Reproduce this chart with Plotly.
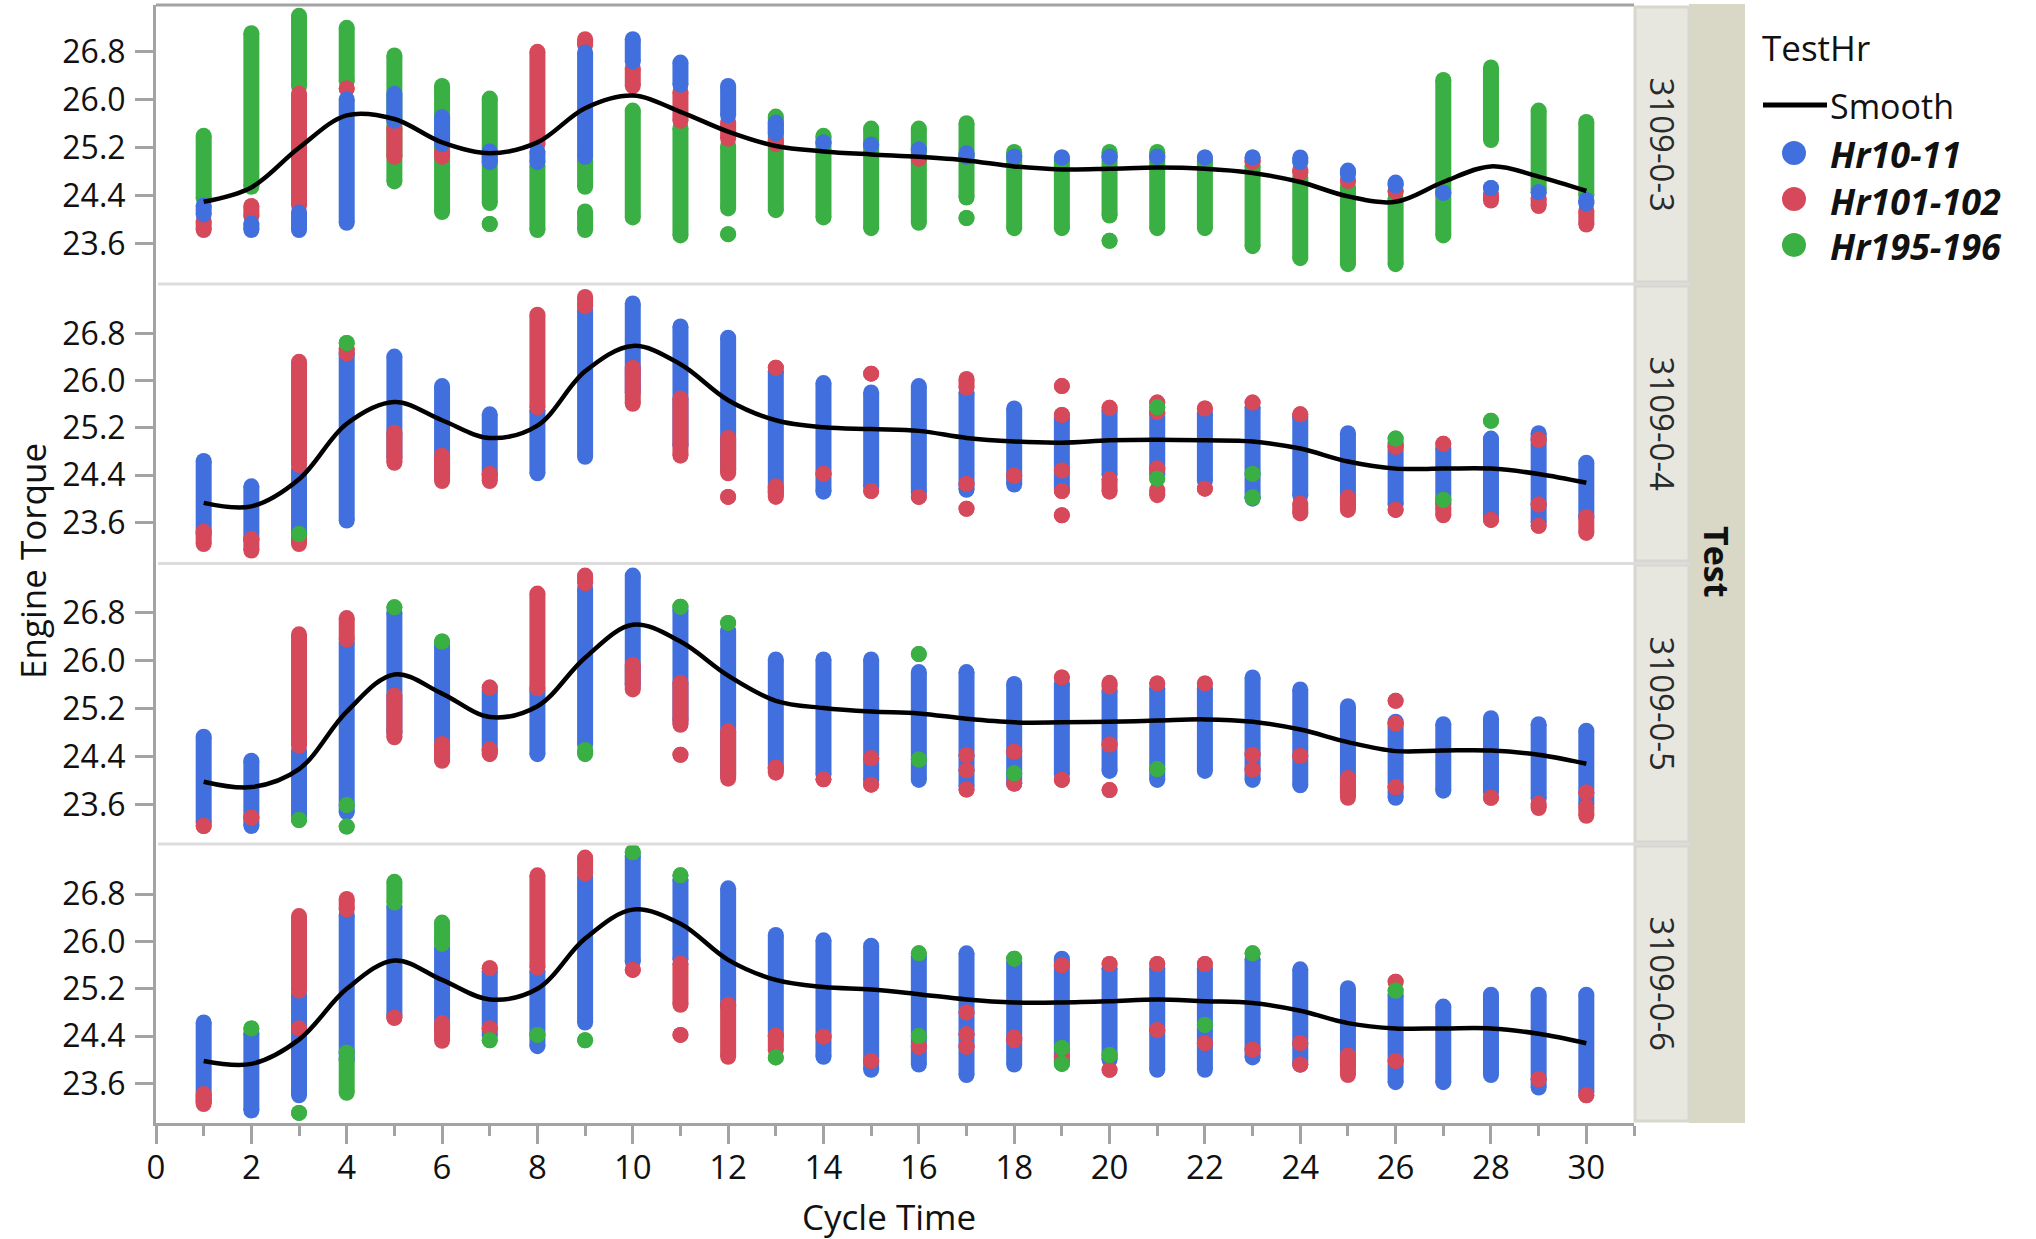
import plotly.graph_objects as go

# ---------------- data ----------------
series_names = ["Hr10-11", "Hr101-102", "Hr195-196"]
panel_names = ["3109-0-3", "3109-0-4", "3109-0-5", "3109-0-6"]
cycle_time = list(range(1, 31))
y_tick_vals = [23.6, 24.4, 25.2, 26.0, 26.8]

# each entry: (cycle time, lowest torque, highest torque) of a visible run of points
p1_blue = [(1, 24.09, 24.24), (2, 23.83, 23.94), (3, 23.83, 24.12), (4, 23.95, 26.01), (5, 25.65, 26.10),
           (6, 25.26, 25.71), (7, 24.96, 25.14), (8, 24.96, 25.14), (9, 25.05, 26.79), (10, 26.64, 27.01),
           (11, 26.25, 26.62), (12, 25.74, 26.23), (13, 25.44, 25.62), (14, 25.29, 25.29), (15, 25.25, 25.25),
           (16, 25.17, 25.17), (17, 25.05, 25.11), (18, 25.05, 25.05), (19, 25.04, 25.04), (20, 25.05, 25.05),
           (21, 25.05, 25.05), (22, 25.04, 25.04), (23, 25.04, 25.04), (24, 24.96, 25.04), (25, 24.75, 24.82),
           (26, 24.57, 24.62), (27, 24.45, 24.45), (28, 24.53, 24.53), (29, 24.46, 24.46), (30, 24.27, 24.33)]
p1_red = [(1, 23.83, 23.97), (2, 24.06, 24.23), (3, 24.24, 26.10), (4, 26.19, 26.19), (5, 25.05, 25.53),
          (6, 25.05, 25.14), (8, 25.26, 26.80), (9, 26.91, 27.01), (10, 26.23, 26.52), (11, 25.65, 26.13),
          (12, 25.35, 25.62), (13, 25.26, 25.32), (16, 25.02, 25.02), (23, 24.96, 25.00), (24, 24.78, 24.84),
          (25, 24.65, 24.65), (26, 24.47, 24.47), (28, 24.32, 24.42), (29, 24.23, 24.36), (30, 23.92, 24.15)]
p1_green = [(1, 24.36, 25.40), (2, 24.55, 27.11), (3, 26.22, 27.40), (4, 26.31, 27.20), (5, 24.64, 26.74),
            (6, 24.13, 26.23), (7, 24.28, 26.02), (7, 23.93, 23.93), (8, 23.83, 24.90), (9, 24.55, 25.00),
            (9, 23.83, 24.14), (10, 24.04, 25.82), (11, 23.74, 25.53), (12, 24.19, 25.23), (12, 23.76, 23.76),
            (13, 24.16, 25.72), (14, 24.04, 25.40), (15, 23.86, 25.52), (16, 23.95, 25.52), (17, 24.37, 25.61),
            (17, 24.03, 24.03), (18, 23.86, 25.13), (19, 23.86, 25.00), (20, 24.07, 25.13), (20, 23.65, 23.65),
            (21, 23.86, 25.13), (22, 23.86, 24.98), (23, 23.56, 24.90), (24, 23.36, 24.70), (25, 23.26, 24.55),
            (26, 23.26, 24.36), (27, 23.74, 26.33), (28, 25.33, 26.54), (29, 24.50, 25.82), (30, 24.40, 25.63)]

p2_blue = [(1, 23.40, 24.64), (2, 23.30, 24.21), (3, 23.30, 24.50), (4, 23.63, 26.45), (5, 24.70, 26.41),
           (6, 24.40, 25.91), (7, 24.40, 25.43), (8, 24.43, 25.50), (9, 24.71, 27.20), (10, 25.80, 27.31),
           (11, 24.90, 26.92), (12, 24.50, 26.73), (13, 24.10, 26.16), (14, 24.12, 25.96), (15, 24.20, 25.80),
           (16, 24.10, 25.91), (17, 24.15, 25.80), (18, 24.24, 25.53), (19, 24.15, 25.37), (20, 24.40, 25.50),
           (21, 24.40, 25.45), (22, 24.30, 25.45), (23, 24.00, 25.55), (24, 24.05, 25.40), (25, 23.90, 25.11),
           (26, 23.90, 24.95), (27, 23.90, 24.85), (28, 23.70, 25.02), (29, 23.60, 25.11), (30, 23.70, 24.61)]
p2_red = [(1, 23.23, 23.44), (2, 23.12, 23.32), (3, 24.57, 26.32), (3, 23.23, 23.33), (4, 26.46, 26.55),
          (5, 24.61, 25.12), (6, 24.30, 24.73), (7, 24.30, 24.42), (8, 25.55, 27.12), (9, 27.26, 27.42),
          (10, 25.61, 26.22), (11, 24.73, 25.70), (12, 24.43, 25.03), (12, 24.03, 24.03), (13, 26.22, 26.22),
          (13, 24.03, 24.21), (14, 24.42, 24.42), (15, 26.12, 26.12), (15, 24.13, 24.13), (16, 24.03, 24.03),
          (17, 25.88, 26.03), (17, 24.25, 24.25), (17, 23.83, 23.83), (18, 24.39, 24.39), (19, 25.91, 25.91),
          (19, 25.42, 25.42), (19, 24.48, 24.48), (19, 24.13, 24.13), (19, 23.72, 23.72), (20, 25.54, 25.54),
          (20, 24.12, 24.33), (21, 25.63, 25.63), (21, 25.47, 25.47), (21, 24.51, 24.51), (21, 24.06, 24.15),
          (22, 25.53, 25.53), (22, 24.17, 24.17), (23, 25.63, 25.63), (24, 25.43, 25.43), (24, 23.75, 23.92),
          (25, 23.81, 24.02), (26, 24.88, 24.88), (26, 23.81, 23.81), (27, 24.93, 24.93), (27, 23.72, 23.85),
          (28, 23.64, 23.64), (29, 25.00, 25.00), (29, 23.90, 23.90), (29, 23.54, 23.54), (30, 23.42, 23.69)]
p2_green = [(3, 23.40, 23.40), (4, 26.64, 26.64), (21, 25.55, 25.55), (21, 24.34, 24.34), (23, 24.42, 24.42),
            (23, 24.02, 24.02), (26, 25.02, 25.02), (27, 23.98, 23.98), (28, 25.32, 25.32)]

p3_blue = [(1, 23.30, 24.73), (2, 23.24, 24.33), (3, 23.40, 24.50), (4, 23.47, 26.30), (5, 24.80, 26.80),
           (6, 24.40, 26.25), (7, 24.50, 25.50), (8, 24.44, 25.50), (9, 24.60, 27.20), (10, 25.60, 27.42),
           (11, 25.00, 26.85), (12, 24.10, 26.50), (13, 24.20, 26.02), (14, 24.10, 26.02), (15, 24.00, 26.02),
           (16, 24.01, 25.81), (17, 23.90, 25.81), (18, 23.95, 25.61), (19, 24.10, 25.62), (20, 24.16, 25.50),
           (21, 24.01, 25.54), (22, 24.16, 25.54), (23, 24.01, 25.72), (24, 23.92, 25.52), (25, 23.80, 25.24),
           (26, 23.71, 24.98), (27, 23.83, 24.94), (28, 23.80, 25.04), (29, 23.70, 24.94), (30, 23.60, 24.83)]
p3_red = [(1, 23.24, 23.24), (2, 23.38, 23.38), (3, 24.58, 26.44), (4, 26.35, 26.71), (5, 24.72, 25.42),
          (6, 24.33, 24.61), (7, 25.55, 25.55), (7, 24.44, 24.52), (8, 25.54, 27.12), (9, 27.29, 27.42),
          (10, 25.52, 25.93), (11, 24.93, 25.63), (11, 24.43, 24.43), (12, 24.03, 24.82), (13, 24.13, 24.22),
          (14, 24.02, 24.02), (15, 24.37, 24.37), (15, 23.93, 23.93), (17, 24.42, 24.42), (17, 24.17, 24.17),
          (17, 23.85, 23.85), (18, 24.48, 24.48), (18, 23.95, 23.95), (19, 25.72, 25.72), (19, 24.01, 24.01),
          (20, 25.57, 25.63), (20, 24.60, 24.60), (20, 23.84, 23.84), (21, 25.62, 25.62), (22, 25.62, 25.62),
          (23, 24.43, 24.43), (23, 24.18, 24.18), (24, 24.41, 24.41), (25, 23.71, 24.04), (26, 25.33, 25.33),
          (26, 24.95, 24.95), (26, 23.89, 23.89), (28, 23.71, 23.71), (29, 23.54, 23.61), (30, 23.80, 23.80),
          (30, 23.41, 23.56)]
p3_green = [(3, 23.34, 23.34), (4, 23.59, 23.59), (4, 23.23, 23.23), (5, 26.89, 26.89), (6, 26.32, 26.32),
            (9, 24.44, 24.51), (11, 26.90, 26.90), (12, 26.63, 26.63), (16, 26.11, 26.11), (16, 24.35, 24.35),
            (18, 24.12, 24.12), (21, 24.19, 24.19)]

p4_blue = [(1, 23.30, 24.63), (2, 23.14, 24.45), (3, 23.40, 25.10), (4, 24.00, 26.45), (5, 24.75, 26.60),
           (6, 24.50, 25.90), (7, 24.40, 25.50), (8, 24.23, 25.50), (9, 24.63, 27.10), (10, 25.66, 27.45),
           (11, 25.70, 27.05), (12, 24.90, 26.90), (13, 24.40, 26.11), (14, 24.05, 26.02), (15, 23.83, 25.93),
           (16, 23.92, 25.75), (17, 23.74, 25.80), (18, 23.92, 25.65), (19, 23.95, 25.71), (20, 24.00, 25.55),
           (21, 23.83, 25.55), (22, 23.83, 25.55), (23, 24.04, 25.70), (24, 23.92, 25.53), (25, 23.90, 25.21),
           (26, 23.62, 25.10), (27, 23.62, 24.90), (28, 23.74, 25.10), (29, 23.53, 25.10), (30, 23.45, 25.10)]
p4_red = [(1, 23.25, 23.42), (3, 25.17, 26.43), (3, 24.53, 24.53), (4, 26.54, 26.72), (5, 24.71, 24.71),
          (6, 24.32, 24.62), (7, 25.55, 25.55), (7, 24.53, 24.53), (8, 25.56, 27.12), (9, 27.15, 27.42),
          (10, 25.52, 25.52), (11, 24.93, 25.63), (11, 24.42, 24.42), (12, 24.05, 24.93), (13, 24.16, 24.41),
          (14, 24.39, 24.39), (15, 23.98, 23.98), (16, 24.22, 24.22), (17, 24.80, 24.80), (17, 24.43, 24.43),
          (17, 24.22, 24.22), (18, 24.33, 24.38), (19, 25.60, 25.60), (19, 24.05, 24.05), (20, 25.62, 25.62),
          (20, 23.83, 23.83), (21, 25.62, 25.62), (21, 24.50, 24.50), (22, 25.62, 25.62), (22, 24.28, 24.28),
          (23, 24.17, 24.17), (24, 24.28, 24.28), (24, 23.92, 23.92), (25, 23.74, 24.07), (26, 25.32, 25.32),
          (26, 23.98, 23.98), (29, 23.67, 23.67), (30, 23.40, 23.40)]
p4_green = [(2, 24.53, 24.53), (3, 23.10, 23.10), (4, 24.12, 24.12), (4, 23.44, 24.01), (5, 26.66, 27.01),
            (6, 25.96, 26.32), (7, 24.33, 24.33), (8, 24.42, 24.42), (9, 24.33, 24.33), (10, 27.51, 27.51),
            (11, 27.12, 27.12), (13, 24.04, 24.04), (16, 25.80, 25.80), (16, 24.40, 24.40), (18, 25.71, 25.71),
            (19, 24.20, 24.20), (19, 23.93, 23.93), (20, 24.08, 24.08), (22, 24.59, 24.59), (23, 25.80, 25.80),
            (26, 25.17, 25.17)]

p1_smooth = [24.30, 24.54, 25.20, 25.74, 25.68, 25.29, 25.11, 25.29, 25.86, 26.07, 25.80, 25.47, 25.23, 25.14, 25.09,
             25.05, 24.99, 24.89, 24.84, 24.85, 24.87, 24.85, 24.78, 24.63, 24.39, 24.30, 24.63, 24.89, 24.72, 24.48]
p2_smooth = [23.93, 23.87, 24.33, 25.27, 25.64, 25.33, 25.03, 25.24, 26.16, 26.59, 26.28, 25.67, 25.33, 25.21, 25.18,
             25.15, 25.03, 24.97, 24.95, 24.99, 25.00, 24.99, 24.97, 24.85, 24.63, 24.51, 24.51, 24.51, 24.42, 24.27]
p3_smooth = [23.98, 23.89, 24.19, 25.15, 25.77, 25.45, 25.06, 25.24, 26.05, 26.60, 26.32, 25.75, 25.33, 25.21, 25.15,
             25.12, 25.03, 24.97, 24.97, 24.98, 25.00, 25.02, 24.98, 24.85, 24.64, 24.49, 24.50, 24.50, 24.43, 24.28]
p4_smooth = [23.98, 23.93, 24.34, 25.20, 25.68, 25.35, 25.02, 25.20, 26.05, 26.54, 26.30, 25.69, 25.35, 25.23, 25.19,
             25.11, 25.02, 24.97, 24.97, 24.99, 25.02, 24.99, 24.96, 24.83, 24.62, 24.53, 24.53, 24.53, 24.44, 24.28]

# ---------------- styling ----------------
W, H = 2036, 1239
FONT = "Open Sans"
COLORS = {"Hr10-11": "#4170de", "Hr101-102": "#d6495a", "Hr195-196": "#3aaf43"}
AXIS_GRAY = "#a3a3a3"
SEP_GRAY = "#dcdcdc"
DOT = 16


def pxx(x):
    return x / W


def pxy(y):
    return 1 - y / H


panel_px = [(5, 284), (284, 563), (563, 844), (844, 1123)]
panel_ranges = [(22.93, 27.58), (22.91, 27.64), (22.94, 27.63), (22.93, 27.65)]
plot_left, plot_right = 156, 1634

panels = [
    {"Hr10-11": p1_blue, "Hr101-102": p1_red, "Hr195-196": p1_green, "smooth": p1_smooth,
     "order": ["Hr195-196", "Hr101-102", "Hr10-11"]},
    {"Hr10-11": p2_blue, "Hr101-102": p2_red, "Hr195-196": p2_green, "smooth": p2_smooth,
     "order": ["Hr10-11", "Hr101-102", "Hr195-196"]},
    {"Hr10-11": p3_blue, "Hr101-102": p3_red, "Hr195-196": p3_green, "smooth": p3_smooth,
     "order": ["Hr10-11", "Hr101-102", "Hr195-196"]},
    {"Hr10-11": p4_blue, "Hr101-102": p4_red, "Hr195-196": p4_green, "smooth": p4_smooth,
     "order": ["Hr10-11", "Hr101-102", "Hr195-196"]},
]

fig = go.Figure()
for i, p in enumerate(panels):
    yref = "y" if i == 0 else f"y{i + 1}"
    for name in p["order"]:
        xs, ys = [], []
        for (ct, lo, hi) in p[name]:
            xs += [ct, ct, None]
            ys += [lo, hi, None]
        fig.add_trace(go.Scatter(
            x=xs, y=ys, yaxis=yref, xaxis="x", mode="lines+markers", name=name,
            legendgroup=name, showlegend=False,
            line=dict(color=COLORS[name], width=DOT),
            marker=dict(color=COLORS[name], size=DOT, line=dict(width=0)),
            hoverinfo="skip"))
    fig.add_trace(go.Scatter(
        x=cycle_time, y=p["smooth"], yaxis=yref, xaxis="x", mode="lines", name="Smooth",
        showlegend=False, line=dict(color="black", width=4.5, shape="spline")))

layout = dict(
    template="none",
    width=W, height=H, margin=dict(l=0, r=0, t=0, b=0, pad=0, autoexpand=False),
    paper_bgcolor="white", plot_bgcolor="white", showlegend=False,
    font=dict(family=FONT, color="#111111", size=32),
    xaxis=dict(domain=[pxx(plot_left), pxx(plot_right)], range=[0, 31], anchor="y4", automargin=False,
               tick0=0, dtick=2, ticks="outside", ticklen=18, tickwidth=2.5, tickcolor=AXIS_GRAY,
               showline=True, linecolor=AXIS_GRAY, linewidth=3, showgrid=False, zeroline=False,
               ticklabelstandoff=-5,
               tickfont=dict(size=33, family=FONT, color="#111111"),
               minor=dict(dtick=1, ticks="outside", ticklen=10, tickwidth=2.5, tickcolor=AXIS_GRAY,
                          showgrid=False)),
)
for i in range(4):
    key = "yaxis" if i == 0 else f"yaxis{i + 1}"
    top, bot = panel_px[i]
    layout[key] = dict(domain=[pxy(bot), pxy(top)], range=list(panel_ranges[i]), anchor="x", automargin=False,
                       tickvals=y_tick_vals, ticktext=[f"{v:.1f}" for v in y_tick_vals],
                       ticks="outside", ticklen=18, tickwidth=2.5, tickcolor=AXIS_GRAY,
                       showline=True, linecolor=AXIS_GRAY, linewidth=3, showgrid=False, zeroline=False,
                       ticklabelstandoff=3,
                       tickfont=dict(size=32, family=FONT, color="#111111"))
fig.update_layout(**layout)

shapes = []
# top border & panel separators
shapes.append(dict(type="line", xref="paper", yref="paper", x0=pxx(plot_left), x1=pxx(plot_right),
                   y0=pxy(5), y1=pxy(5), line=dict(color=AXIS_GRAY, width=3), layer="above"))
for yy in (284, 563.5, 844):
    shapes.append(dict(type="line", xref="paper", yref="paper", x0=pxx(plot_left + 2), x1=pxx(1690),
                       y0=pxy(yy), y1=pxy(yy), line=dict(color=SEP_GRAY, width=3), layer="above"))
# outer strip "Test"
shapes.append(dict(type="rect", xref="paper", yref="paper", x0=pxx(1689), x1=pxx(1745), y0=pxy(1123),
                   y1=pxy(4), fillcolor="#d9d8c7", line=dict(width=0), layer="below"))
# inner strips
for (top, bot) in panel_px:
    shapes.append(dict(type="rect", xref="paper", yref="paper", x0=pxx(1635), x1=pxx(1689),
                       y0=pxy(bot - 2), y1=pxy(top + 2), fillcolor="#e7e7df",
                       line=dict(color="#d7d7ce", width=3), layer="below"))
# legend symbols
smooth_y = 105
leg_y = [155, 201, 247]
shapes.append(dict(type="line", xref="paper", yref="paper", x0=pxx(1763), x1=pxx(1827), y0=pxy(smooth_y),
                   y1=pxy(smooth_y), line=dict(color="black", width=5)))
for name, yy in zip(series_names, leg_y):
    shapes.append(dict(type="circle", xref="paper", yref="paper", x0=pxx(1782), x1=pxx(1806),
                       y0=pxy(yy + 10), y1=pxy(yy - 14), fillcolor=COLORS[name], line=dict(width=0)))

annotations = []
for name, (top, bot) in zip(panel_names, panel_px):
    annotations.append(dict(text=name, xref="paper", yref="paper", x=pxx(1662), y=pxy((top + bot) / 2),
                            textangle=90, showarrow=False, xanchor="center", yanchor="middle",
                            font=dict(size=33, family=FONT, color="#2a2a2a")))
annotations.append(dict(text="<b>Test</b>", xref="paper", yref="paper", x=pxx(1717), y=pxy(561),
                        textangle=90, showarrow=False, xanchor="center", yanchor="middle",
                        font=dict(size=34, family=FONT, color="#111111")))
annotations.append(dict(text="Engine Torque", xref="paper", yref="paper", x=pxx(32), y=pxy(561),
                        textangle=-90, showarrow=False, xanchor="center", yanchor="middle",
                        font=dict(size=35, family=FONT, color="#111111")))
annotations.append(dict(text="Cycle Time", xref="paper", yref="paper", x=pxx(889), y=pxy(1216),
                        showarrow=False, xanchor="center", yanchor="middle",
                        font=dict(size=35, family=FONT, color="#111111")))
annotations.append(dict(text="TestHr", xref="paper", yref="paper", x=pxx(1760), y=pxy(48),
                        showarrow=False, xanchor="left", yanchor="middle",
                        font=dict(size=35, family=FONT, color="#111111")))
annotations.append(dict(text="Smooth", xref="paper", yref="paper", x=pxx(1828), y=pxy(smooth_y + 1),
                        showarrow=False, xanchor="left", yanchor="middle",
                        font=dict(size=34, family=FONT, color="#111111")))
for name, yy in zip(series_names, leg_y):
    annotations.append(dict(text=f"<b><i>{name}</i></b>", xref="paper", yref="paper", x=pxx(1828),
                            y=pxy(yy), showarrow=False, xanchor="left", yanchor="middle",
                            font=dict(size=36, family=FONT, color="#111111")))

fig.update_layout(shapes=shapes, annotations=annotations)

fig.write_html("out.html", config={"displayModeBar": False},
               post_script="document.body.style.margin='0px';")
